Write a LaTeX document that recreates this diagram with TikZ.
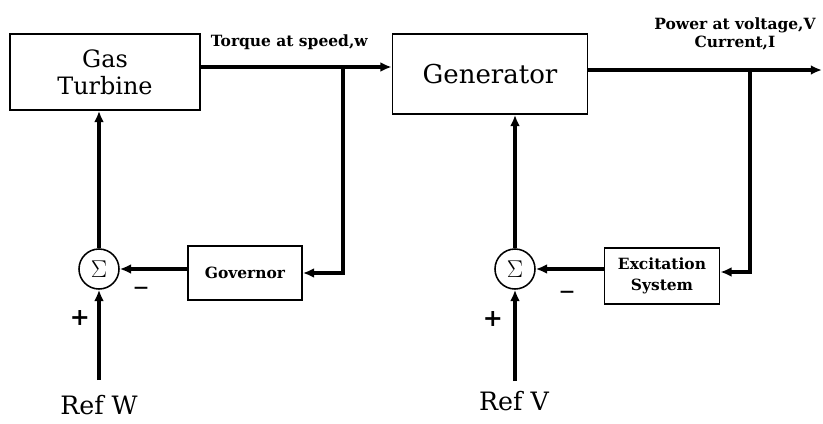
\documentclass[tikz,border=0pt]{standalone}
\usepackage{fontspec}
\setmainfont{DejaVu Serif}
\usetikzlibrary{arrows.meta}

\tikzset{
  block/.style={draw, line width=1.2pt, align=center, inner sep=0pt},
  sumnode/.style={draw, circle, line width=1.1pt, minimum size=1cm, inner sep=0pt},
  sig/.style={line width=2.6pt},
  arr/.style={sig, -{Latex[length=8pt,width=7pt]}},
  lbl/.style={font=\fontsize{11}{13}\selectfont\bfseries, align=center},
  sgn/.style={font=\fontsize{17}{18}\selectfont\bfseries},
}

\begin{document}
\begin{tikzpicture}[x=0.025cm, y=-0.025cm]
  \useasboundingbox (0,0) rectangle (823,423);

  % blocks
  \node[block, minimum width=4.75cm, minimum height=1.9cm,
        font=\fontsize{17}{19}\selectfont] (gt) at (105,72) {Gas\\Turbine};
  \node[block, minimum width=4.875cm, minimum height=2cm,
        font=\fontsize{18.5}{20}\selectfont] (gen) at (490,74) {Generator};
  \node[block, minimum width=2.85cm, minimum height=1.35cm,
        font=\fontsize{11}{13}\selectfont\bfseries] (gov) at (245,273) {Governor};
  \node[block, minimum width=2.875cm, minimum height=1.4cm,
        font=\fontsize{11}{15}\selectfont\bfseries] (exc) at (662,276) {Excitation\\System};
  \node[sumnode] (s1) at (99,269) {\LARGE$\Sigma$};
  \node[sumnode] (s2) at (515,269) {\LARGE$\Sigma$};

  % references
  \node[font=\fontsize{18}{20}\selectfont] (refw) at (99,405) {Ref W};
  \node[font=\fontsize{18}{20}\selectfont] (refv) at (514,401) {Ref V};
  \coordinate (w0) at (99,380);
  \coordinate (v0) at (515,381);

  % branch points
  \coordinate (tq) at (343,67);
  \coordinate (vb) at (750,70);
  \coordinate (out) at (822,70);

  % forward path
  \draw[arr] (gt.east |- tq) -- (gen.west |- tq);
  \draw[arr] (gen.east |- vb) -- (out);

  % feedback loops
  \draw[arr] (tq) |- (gov.east);
  \draw[arr] (vb) |- (exc.east |- 0,272);
  \draw[arr] (gov.west |- s1) -- (s1.east);
  \draw[arr] (exc.west |- s2) -- (s2.east);
  \draw[arr] (s1.north) -- (gt.south -| s1);
  \draw[arr] (s2.north) -- (gen.south -| s2);
  \draw[arr] (w0) -- (s1.south);
  \draw[arr] (v0) -- (s2.south);

  % labels
  \node[lbl, anchor=west] (ltq) at (206,42) {Torque at speed,w};
  \node[lbl] (lpw) at (735,34) {Power at voltage,V\\Current,I};
  \node[sgn, font=\fontsize{22}{24}\selectfont] (m1) at (141,292) {--};
  \node[sgn] (p1) at (80,318) {+};
  \node[sgn, font=\fontsize{22}{24}\selectfont] (m2) at (567,296) {--};
  \node[sgn] (p2) at (493,319) {+};
\end{tikzpicture}
\end{document}
